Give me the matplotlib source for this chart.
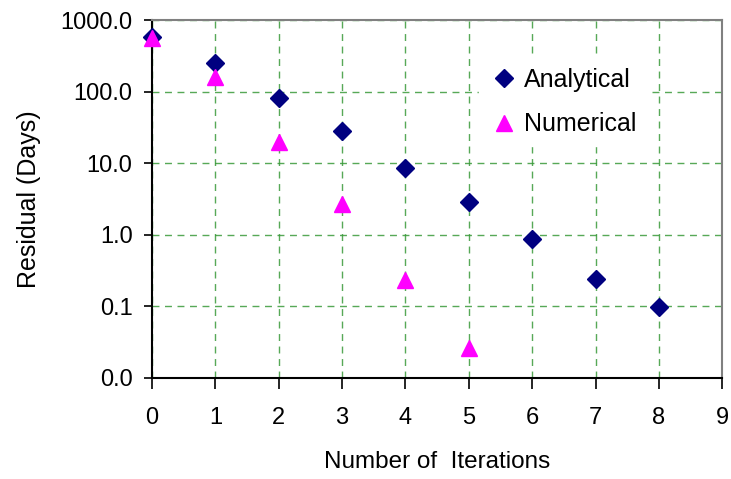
import matplotlib
matplotlib.use("Agg")
import matplotlib.pyplot as plt
from matplotlib.ticker import FixedLocator, FuncFormatter, NullLocator

# Residual per iteration for the two solution methods
iter_analytical = [0, 1, 2, 3, 4, 5, 6, 7, 8]
res_analytical = [580, 250, 81, 28, 8.6, 2.9, 0.87, 0.24, 0.097]
iter_numerical = [0, 1, 2, 3, 4, 5]
res_numerical = [560, 160, 20, 2.7, 0.23, 0.026]

x_ticks = list(range(10))
y_ticks = [0.01, 0.1, 1, 10, 100, 1000]

plt.rcParams['font.family'] = ['Liberation Sans', 'DejaVu Sans']

fig = plt.figure(figsize=(7.31, 4.79), dpi=100)
ax = fig.add_axes([0.208, 0.211, 0.780, 0.747])

ax.set_yscale('log')
ax.set_xlim(0, 9)
ax.set_ylim(0.01, 1000)

ax.xaxis.set_major_locator(FixedLocator(x_ticks))
ax.yaxis.set_major_locator(FixedLocator(y_ticks))
ax.yaxis.set_minor_locator(NullLocator())
ax.yaxis.set_major_formatter(FuncFormatter(lambda v, p: f"{v:.1f}"))

ax.grid(True, color='#3a9a3a', linestyle=(0, (5, 4)), linewidth=1.0, alpha=0.85)
ax.set_axisbelow(True)

ax.plot(iter_analytical, res_analytical, linestyle='none', marker='D',
        markersize=9, color='#000080', label='Analytical', clip_on=False, zorder=3)
ax.plot(iter_numerical, res_numerical, linestyle='none', marker='^',
        markersize=11, color='#ff00ff', label='Numerical', clip_on=False, zorder=3)

for side in ('left', 'bottom'):
    ax.spines[side].set_color('black')
    ax.spines[side].set_linewidth(1.5)
for side in ('top', 'right'):
    ax.spines[side].set_color('#808080')
    ax.spines[side].set_linewidth(1.5)

ax.tick_params(axis='x', direction='out', length=8, width=1.2, pad=13, labelsize=17)
ax.tick_params(axis='y', direction='out', length=6, width=1.2, pad=8, labelsize=17)

ax.set_xlabel('Number of  Iterations', fontsize=17.5, labelpad=16)
ax.set_ylabel('Residual (Days)', fontsize=18, labelpad=14)

leg = ax.legend(loc='upper left', bbox_to_anchor=(0.552, 0.93), frameon=True,
                fontsize=18, handletextpad=0.2, borderpad=0.4,
                labelspacing=0.83, handlelength=1.2)
leg.get_frame().set_facecolor('white')
leg.get_frame().set_edgecolor('white')
leg.get_frame().set_alpha(1.0)

fig.savefig('out.png', dpi=100)
